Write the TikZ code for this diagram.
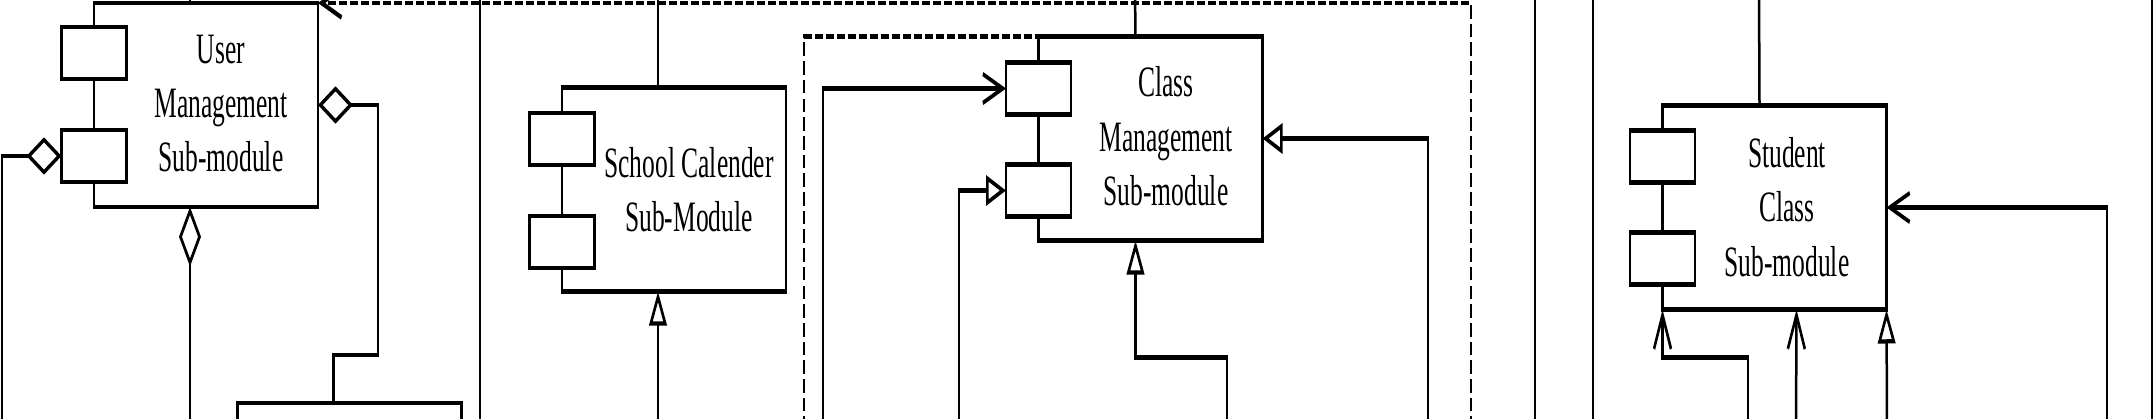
\documentclass[tikz,border=0pt]{standalone}
\usepackage{fontspec}
\setmainfont{Liberation Serif}
\usetikzlibrary{arrows.meta,calc}
\tikzset{
  comp/.style={draw, line width=2.6pt, minimum width=224pt, minimum height=120pt, inner sep=0pt, outer sep=0pt},
  port/.style={draw, fill=white, line width=2.6pt, minimum width=65pt, minimum height=30.6pt, inner sep=0pt, outer sep=0pt},
  lbl/.style={align=center, inner sep=0pt, font=\fontsize{25.5pt}{32pt}\selectfont},
  conn/.style={line width=2.5pt},
  depline/.style={line width=2.5pt, dash pattern=on 8pt off 3pt},
  tri/.style={-{Triangle[open, length=20pt, width=17.5pt]}},
  vee/.style={-{Straight Barb[length=20pt, width=17pt]}},
  agg/.style={{Diamond[open, length=35pt, width=22pt]}-},
}
\begin{document}
\begin{tikzpicture}[x=1pt,y=-1pt]
\useasboundingbox (0,0) rectangle (2155,418);
\clip (0,0) rectangle (2155,418);
\begin{scope}[transform canvas={yscale=1.7}, y={(0pt,-0.588235pt)}]
% components
\node[comp] (um) at (206,105) {};
\node[comp] (sc) at (674,189.5) {};
\node[comp] (cm) at (1150.5,138.5) {};
\node[comp] (st) at (1774.5,207.5) {};
\node[comp] (bb) at (349.5,505) {};
% labels
\node[lbl] (umt) at (221,103.5) {User\\Management\\Sub-module};
\node[lbl] (sct) at (689,189.5) {School Calender\\Sub-Module};
\node[lbl] (cmt) at (1166,136.5) {Class\\Management\\Sub-module};
\node[lbl] (stt) at (1787,207) {Student\\Class\\Sub-module};
% free ends
\coordinate (fD1) at (1471,430);
\coordinate (fD2) at (804,430);
\coordinate (fU1) at (190,430);
\coordinate (fU2) at (190,-10);
\coordinate (fU3) at (2,430);
\coordinate (fV1a) at (480,-10);  \coordinate (fV1b) at (480,430);
\coordinate (fV2a) at (1535,-10); \coordinate (fV2b) at (1535,430);
\coordinate (fV3a) at (1593,-10); \coordinate (fV3b) at (1593,430);
\coordinate (fV4a) at (2152,-10); \coordinate (fV4b) at (2152,430);
\coordinate (fS1) at (658,-10);
\coordinate (fS2) at (658,430);
\coordinate (fC1) at (823,430);
\coordinate (fC2) at (959,430);
\coordinate (fC3) at (1227,430);
\coordinate (fC4) at (1428,430);
\coordinate (fC5) at (1135,-10);
\coordinate (fT1) at (1759,-10);
\coordinate (fT2) at (1748,430);
\coordinate (fT3) at (1796,430);
\coordinate (fT4) at (1887,430);
\coordinate (fT5) at (2107,430);
% dependencies
\draw[depline, line width=2.8pt, vee] (fD1) |- (um.north east);
\draw[depline] (fD2) |- (cm.north west);
% user management
\draw[conn, agg] ($(um.south west)+(96,0)$) -- (fU1);
\draw[conn] (fU2) -- ($(um.north west)+(96,0)$);
\draw[conn, agg] (um.east) -- ++(60,0) |- ($(bb.north west)+(96,-48)$) -- ($(bb.north west)+(96,0)$);
% long verticals
\draw[conn] (fV1a) -- (fV1b);
\draw[conn] (fV2a) -- (fV2b);
\draw[conn] (fV3a) -- (fV3b);
\draw[conn] (fV4a) -- (fV4b);
% school calender
\draw[conn] (fS1) -- ($(sc.north west)+(96,0)$);
\draw[conn, tri] (fS2) -- ($(sc.south west)+(96,0)$);
% class management
\draw[conn, tri] (fC3) |- ($(cm.south west)+(97,117)$) -- ($(cm.south west)+(97,0)$);
\draw[conn, tri] (fC4) |- (cm.east);
\draw[conn] (fC5) -- ($(cm.north west)+(97,0)$);
% student class
\draw[conn] (fT1) -- ($(st.north west)+(97,0)$);
\draw[conn, vee] (fT2) |- ($(st.south west)+(0,48)$) -- (st.south west);
\draw[conn, vee] (fT3) -- ($(st.south west)+(134,0)$);
\draw[conn, tri] (fT4) -- (st.south east);
\draw[conn, vee] (fT5) |- (st.east);
% ports
\node[port] (up1) at ($(um.north west)+(0,50)$) {};
\node[port] (up2) at ($(um.north west)+(0,153)$) {};
\node[port] (sp1) at ($(sc.north west)+(0,51.5)$) {};
\node[port] (sp2) at ($(sc.north west)+(0,154.5)$) {};
\node[port] (cp1) at ($(cm.north west)+(0,52)$) {};
\node[port] (cp2) at ($(cm.north west)+(0,154)$) {};
\node[port] (tp1) at ($(st.north west)+(0,51)$) {};
\node[port] (tp2) at ($(st.north west)+(0,153)$) {};
% port connectors
\draw[conn, agg] (up2.west) -| (fU3);
\draw[conn, vee] (fC1) |- (cp1.west);
\draw[conn, tri] (fC2) |- (cp2.west);
\end{scope}
\end{tikzpicture}
\end{document}
